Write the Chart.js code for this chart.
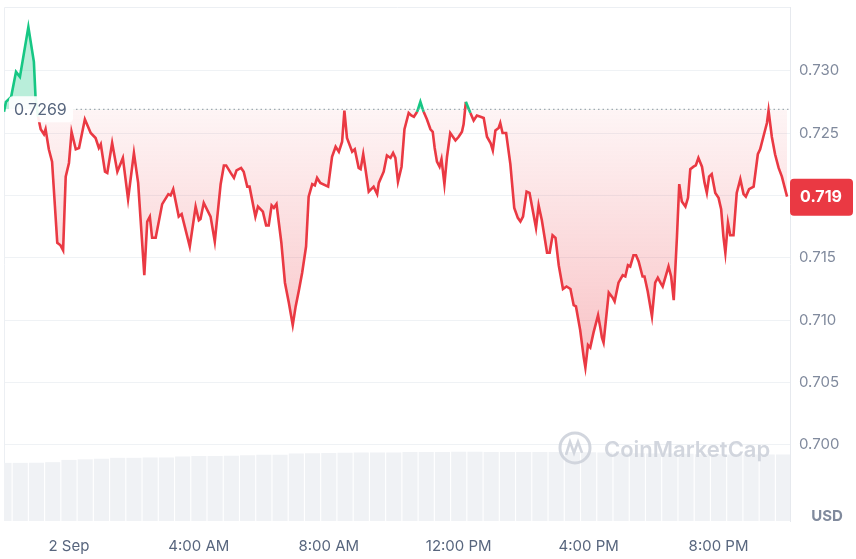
<!DOCTYPE html>
<html>
<head>
<meta charset="utf-8">
<script src="https://cdn.jsdelivr.net/npm/chart.js@4.4.1/dist/chart.umd.min.js"></script>
<style>
  html, body { margin: 0; padding: 0; background: #fff; }
  #wrap { width: 856px; height: 559px; position: relative; }
</style>
</head>
<body>
<div id="wrap"><canvas id="priceChart"></canvas></div>
<script>
// hours relative to midnight, 2 Sep
const hours = [-2.00,-1.94,-1.78,-1.63,-1.51,-1.25,-1.08,-1.03,-0.95,-0.87,-0.77,-0.72,-0.62,-0.52,-0.36,-0.26,-0.18,-0.10,0.00,0.08,
  0.21,0.31,0.49,0.67,0.82,0.92,0.98,1.11,1.18,1.33,1.49,1.66,1.82,2.00,2.13,2.32,2.41,2.49,2.56,2.67,
  2.87,3.06,3.13,3.21,3.38,3.47,3.72,3.90,4.00,4.05,4.15,4.36,4.49,4.67,4.77,4.84,4.98,5.08,5.16,5.30,
  5.38,5.49,5.56,5.74,5.82,5.97,6.07,6.15,6.24,6.31,6.39,6.54,6.65,6.77,6.89,6.98,7.08,7.18,7.30,7.38,
  7.49,7.57,7.64,7.74,7.98,8.10,8.21,8.31,8.41,8.48,8.56,8.72,8.80,8.92,8.98,9.06,9.13,9.23,9.38,9.49,
  9.54,9.69,9.79,9.90,9.98,10.05,10.13,10.24,10.33,10.46,10.54,10.62,10.72,10.82,10.92,11.02,11.13,11.20,11.26,11.33,
  11.41,11.47,11.56,11.64,11.74,11.90,12.00,12.10,12.15,12.22,12.36,12.46,12.56,12.67,12.77,12.87,12.98,13.05,13.13,13.23,
  13.28,13.35,13.46,13.59,13.71,13.82,13.90,13.98,14.09,14.18,14.38,14.46,14.56,14.72,14.80,14.89,14.98,15.08,15.21,15.32,
  15.44,15.54,15.61,15.74,15.85,15.90,15.98,16.05,16.15,16.29,16.36,16.41,16.46,16.62,16.74,16.80,16.92,17.05,17.13,17.21,
  17.28,17.38,17.46,17.54,17.66,17.72,17.82,17.95,18.05,18.13,18.21,18.28,18.36,18.46,18.54,18.62,18.72,18.79,18.87,18.98,
  19.06,19.13,19.23,19.30,19.38,19.49,19.57,19.64,19.71,19.79,19.90,20.00,20.08,20.15,20.21,20.29,20.36,20.46,20.56,20.67,
  20.77,20.84,20.94,21.08,21.21,21.28,21.38,21.49,21.54,21.64,21.74,21.85,21.95,22.11];

const prices = [0.7267,0.7275,0.7279,0.7299,0.7295,0.7335,0.7307,0.7279,0.7263,0.7253,0.7249,0.7253,0.7237,0.7227,0.7162,0.7160,0.7156,0.7215,0.7226,0.7251,
  0.7237,0.7238,0.7261,0.7250,0.7246,0.7238,0.7241,0.7219,0.7218,0.7242,0.7219,0.7230,0.7197,0.7234,0.7210,0.7136,0.7179,0.7183,0.7166,0.7166,
  0.7193,0.7201,0.7200,0.7205,0.7183,0.7185,0.7159,0.7191,0.7180,0.7181,0.7194,0.7183,0.7163,0.7209,0.7224,0.7224,0.7218,0.7214,0.7220,0.7222,
  0.7219,0.7207,0.7207,0.7183,0.7191,0.7187,0.7176,0.7176,0.7192,0.7190,0.7193,0.7162,0.7130,0.7114,0.7096,0.7111,0.7124,0.7138,0.7159,0.7199,
  0.7209,0.7208,0.7214,0.7210,0.7207,0.7231,0.7239,0.7235,0.7243,0.7268,0.7246,0.7235,0.7237,0.7222,0.7221,0.7233,0.7221,0.7203,0.7207,0.7201,
  0.7210,0.7219,0.7232,0.7230,0.7234,0.7230,0.7211,0.7223,0.7253,0.7266,0.7264,0.7263,0.7267,0.7275,0.7267,0.7261,0.7253,0.7251,0.7238,0.7227,
  0.7223,0.7229,0.7209,0.7231,0.7250,0.7244,0.7247,0.7251,0.7257,0.7275,0.7266,0.7260,0.7264,0.7263,0.7262,0.7247,0.7242,0.7236,0.7252,0.7254,
  0.7258,0.7250,0.7250,0.7225,0.7190,0.7182,0.7179,0.7183,0.7203,0.7202,0.7174,0.7192,0.7180,0.7154,0.7154,0.7168,0.7166,0.7144,0.7125,0.7127,
  0.7125,0.7112,0.7111,0.7092,0.7070,0.7062,0.7080,0.7078,0.7090,0.7104,0.7094,0.7086,0.7082,0.7122,0.7118,0.7115,0.7130,0.7136,0.7135,0.7144,
  0.7143,0.7152,0.7152,0.7147,0.7135,0.7135,0.7123,0.7103,0.7130,0.7134,0.7130,0.7127,0.7134,0.7143,0.7135,0.7116,0.7167,0.7209,0.7195,0.7191,
  0.7198,0.7221,0.7223,0.7224,0.7230,0.7223,0.7210,0.7202,0.7215,0.7217,0.7202,0.7198,0.7189,0.7167,0.7154,0.7178,0.7168,0.7168,0.7202,0.7213,
  0.7201,0.7199,0.7205,0.7207,0.7233,0.7237,0.7247,0.7258,0.7268,0.7247,0.7233,0.7222,0.7215,0.7199];

// half-hourly volume (arbitrary units), starting at 22:00 the day before
const volume = [509,509,509,515,535,540,545,553,553,556,556,565,568,570,572,576,579,580,
  590,594,596,598,600,600,600,603,605,605,606,606,605,605,604,604,603,603,602,600,598,
  594,592,590,588,585,585,583,583,582,582];
const volStart = -2;
const volStep = 0.5;

const baseline = 0.7269;
const xTicks = [0, 4, 8, 12, 16, 20];
const xLabels = ['2 Sep', '4:00 AM', '8:00 AM', '12:00 PM', '4:00 PM', '8:00 PM'];
const yTicks = [0.700, 0.705, 0.710, 0.715, 0.720, 0.725, 0.730];

const RED = '#ea3943';
const GREEN = '#16c784';

Chart.defaults.font.family = 'Inter, "Noto Sans", sans-serif';

function roundRect(ctx, x, y, w, h, r) {
  ctx.beginPath();
  ctx.moveTo(x + r, y);
  ctx.arcTo(x + w, y, x + w, y + h, r);
  ctx.arcTo(x + w, y + h, x, y + h, r);
  ctx.arcTo(x, y + h, x, y, r);
  ctx.arcTo(x, y, x + w, y, r);
  ctx.closePath();
}

const extras = {
  id: 'extras',
  beforeDatasetsDraw(chart) {
    const { ctx, chartArea: a } = chart;
    ctx.save();
    ctx.strokeStyle = '#eceff3';
    ctx.lineWidth = 1;
    ctx.beginPath();
    ctx.moveTo(a.left + 0.5, a.bottom);
    ctx.lineTo(a.left + 0.5, a.top + 0.5);
    ctx.lineTo(a.right, a.top + 0.5);
    ctx.stroke();
    ctx.restore();
  },
  afterDatasetsDraw(chart) {
    const { ctx, chartArea: a, scales } = chart;
    const yb = scales.y.getPixelForValue(baseline);
    ctx.save();

    // watermark
    const wy = scales.y.getPixelForValue(0.7);
    ctx.strokeStyle = 'rgba(205,210,218,0.9)';
    ctx.lineWidth = 3;
    ctx.beginPath();
    ctx.arc(575, wy + 3, 15, 0, Math.PI * 2);
    ctx.stroke();
    ctx.lineWidth = 2.6;
    ctx.beginPath();
    ctx.moveTo(566, wy + 10);
    ctx.lineTo(570, wy - 3);
    ctx.lineTo(574, wy + 8);
    ctx.lineTo(578, wy - 3);
    ctx.lineTo(582, wy + 8);
    ctx.stroke();
    ctx.fillStyle = 'rgba(205,210,218,0.9)';
    ctx.font = '600 22px Inter, sans-serif';
    ctx.textAlign = 'left';
    ctx.textBaseline = 'middle';
    ctx.fillText('CoinMarketCap', 604, wy + 5);

    // dotted open-price line
    ctx.strokeStyle = '#8f97a4';
    ctx.lineWidth = 1;
    ctx.setLineDash([1.5, 3]);
    ctx.beginPath();
    ctx.moveTo(a.left + 72, yb);
    ctx.lineTo(a.right, yb);
    ctx.stroke();
    ctx.setLineDash([]);

    // open-price label
    ctx.fillStyle = 'rgba(255,255,255,0.92)';
    roundRect(ctx, a.left + 5, yb - 13, 64, 26, 4);
    ctx.fill();
    ctx.fillStyle = '#58667e';
    ctx.font = '16px Inter, sans-serif';
    ctx.fillText(baseline.toFixed(4), a.left + 10, yb + 1);

    // last price badge
    const last = prices[prices.length - 1];
    const yl = scales.y.getPixelForValue(last);
    ctx.fillStyle = RED;
    roundRect(ctx, a.right, yl - 18, 63, 37, 4);
    ctx.fill();
    ctx.fillStyle = '#fff';
    ctx.font = 'bold 16px Inter, sans-serif';
    ctx.textAlign = 'center';
    ctx.fillText((Math.floor(last * 1000) / 1000).toFixed(3), a.right + 31, yl + 1);

    // currency tag
    ctx.fillStyle = '#808a9d';
    ctx.font = 'bold 15px Inter, sans-serif';
    ctx.fillText('USD', a.right + 37, a.bottom - 5);
    ctx.restore();
  }
};

const ctx = document.getElementById('priceChart').getContext('2d');
const priceChart = new Chart(ctx, {
  type: 'line',
  data: {
    datasets: [{
      label: 'Price',
      data: hours.map((h, i) => ({ x: h, y: prices[i] })),
      yAxisID: 'y',
      order: 1,
      borderWidth: 2.6,
      borderColor: RED,
      pointRadius: 0,
      tension: 0,
      segment: {
        borderColor: c => ((c.p0.parsed.y + c.p1.parsed.y) / 2 > baseline ? GREEN : RED)
      },
      fill: { target: { value: baseline }, above: 'rgba(22,199,132,0.3)' },
      backgroundColor: c => {
        const chart = c.chart;
        if (!chart.chartArea) return 'rgba(234,57,67,0.1)';
        const y = chart.scales.y;
        const g = chart.ctx.createLinearGradient(0, y.getPixelForValue(baseline), 0, y.getPixelForValue(0.705));
        g.addColorStop(0, 'rgba(234,57,67,0.05)');
        g.addColorStop(1, 'rgba(234,57,67,0.32)');
        return g;
      }
    }, {
      type: 'bar',
      label: 'Volume',
      data: volume.map((v, i) => ({ x: volStart + i * volStep, y: v })),
      yAxisID: 'yv',
      order: 2,
      backgroundColor: '#f0f2f5',
      borderWidth: 0,
      barPercentage: 0.93,
      categoryPercentage: 1
    }]
  },
  options: {
    responsive: true,
    maintainAspectRatio: false,
    animation: false,
    layout: { padding: { left: 4, top: 7, right: 0, bottom: 0 } },
    plugins: { legend: { display: false }, tooltip: { enabled: false } },
    scales: {
      x: {
        type: 'linear',
        min: -2.0,
        max: 22.2,
        offset: false,
        afterBuildTicks: s => { s.ticks = xTicks.map(v => ({ value: v })); },
        afterFit: s => { s.height = 38; s.paddingLeft = 0; s.paddingRight = 0; },
        grid: { display: false },
        border: { display: false },
        ticks: {
          color: '#58667e',
          font: { size: 15 },
          padding: 8,
          maxRotation: 0,
          callback: v => xLabels[xTicks.indexOf(v)]
        }
      },
      y: {
        position: 'right',
        min: 0.6939,
        max: 0.7351,
        afterBuildTicks: s => { s.ticks = yTicks.map(v => ({ value: v })); },
        afterFit: s => { s.width = 66; s.paddingTop = 0; s.paddingBottom = 0; },
        grid: { color: '#eff2f5', drawTicks: false },
        border: { display: true, color: '#e6e9ee' },
        ticks: {
          color: '#808a9d',
          font: { size: 15 },
          padding: 9,
          callback: v => v.toFixed(3)
        }
      },
      yv: {
        display: false,
        min: 0,
        max: 4500
      }
    }
  },
  plugins: [extras]
});
</script>
</body>
</html>
